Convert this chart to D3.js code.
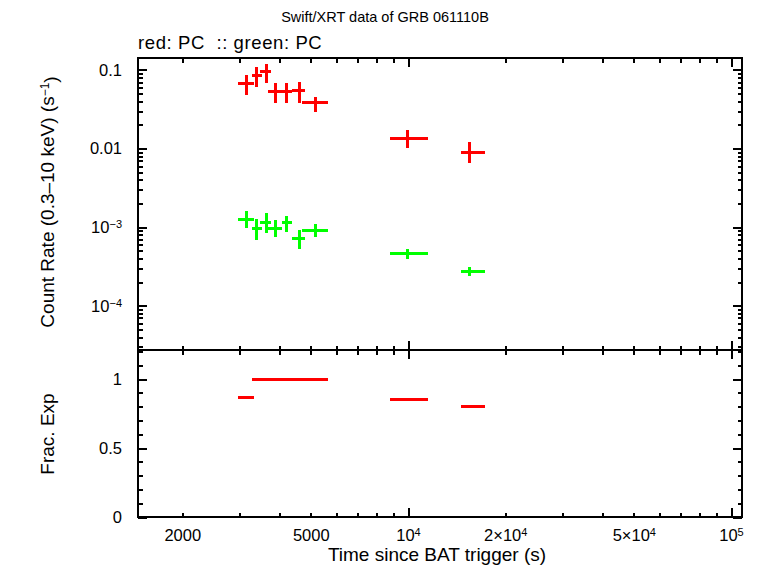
<!DOCTYPE html>
<html>
<head>
<meta charset="utf-8">
<script src="https://cdn.jsdelivr.net/npm/d3@7"></script>
<style>
body { margin: 0; background: #fff; }
text { font-family: "Liberation Sans", Arial, sans-serif; fill: #000; }
line, rect { shape-rendering: crispEdges; }
</style>
</head>
<body>
<svg id="chart" width="761" height="568"></svg>
<script>
// time bins (s since BAT trigger)
const tMid = [3170, 3390, 3640, 3890, 4220, 4600, 5170, 9980, 15480];
const tLo  = [2980, 3280, 3480, 3690, 4060, 4360, 4710, 8800, 14590];
const tHi  = [3330, 3520, 3760, 4060, 4360, 4800, 5640, 11530, 17310];

// red: PC count rate
const redRate = [0.0677, 0.0846, 0.0952, 0.0525, 0.0525, 0.0541, 0.0384, 0.01352, 0.00897];
const redLo   = [0.0481, 0.0602, 0.0677, 0.0377, 0.0377, 0.0380, 0.0295, 0.01019, 0.0065];
const redHi   = [0.0863, 0.1101, 0.1192, 0.0677, 0.0677, 0.0704, 0.0457, 0.01726, 0.01213];

// green: PC count rate
const greenRate = [1.27e-3, 9.68e-4, 1.154e-3, 9.68e-4, 1.154e-3, 7.22e-4, 9.21e-4, 4.66e-4, 2.77e-4];
const greenLo   = [9.68e-4, 6.88e-4, 8.36e-4, 7.44e-4, 8.61e-4, 5.28e-4, 7.57e-4, 3.98e-4, 2.42e-4];
const greenHi   = [1.607e-3, 1.272e-3, 1.503e-3, 1.236e-3, 1.389e-3, 9.21e-4, 1.089e-3, 5.23e-4, 3.09e-4];

// fractional exposure
const fracExp = [0.867, 1, 1, 1, 1, 1, 1, 0.853, 0.80];

const xMajor = [1e4, 1e5];
const xLabels = [2000, 5000, 1e4, 2e4, 5e4, 1e5];
const yMajor = [1e-4, 1e-3, 0.01, 0.1];
const fracMajor = [0, 0.5, 1];

const L = 138, R = 742, T = 58, M = 350, B = 517;
const svg = d3.select("#chart");

const x = d3.scaleLog().domain([1459, 108150]).range([L, R]);
const y = d3.scaleLog().domain([2.74e-5, 0.142]).range([M, T]);
const yf = d3.scaleLinear().domain([0, (B - M) / 138]).range([B, M]);

const xMinor = [];
for (let e = 3; e <= 4; e++) for (let k = 2; k <= 9; k++) xMinor.push(k * Math.pow(10, e));
const yMinor = [];
for (let e = -5; e <= -1; e++) for (let k = 2; k <= 9; k++) {
    const v = k * Math.pow(10, e);
    if (v > 2.74e-5 && v < 0.142) yMinor.push(v);
}
const fracMinor = d3.range(0, 13).map(i => i / 10).filter(v => fracMajor.indexOf(v) < 0);

const MAJ = 9, MIN = 4.5;
const TICKFONT = "16.5px", LABFONT = "19px";

function sup(sel, base, exp) {
    sel.text(null);
    sel.append("tspan").text(base);
    sel.append("tspan").attr("dy", "-0.45em").attr("font-size", "11px").text(exp);
}

function drawAxis(axis, tx, ty, cls) {
    const g = svg.append("g").attr("class", cls).attr("transform", `translate(${tx},${ty})`).call(axis);
    g.select(".domain").remove();
    g.selectAll("line").attr("stroke", "#000").attr("stroke-width", 2);
    g.selectAll("text").attr("font-size", TICKFONT);
    return g;
}

// x ticks: bottom, separator (both sides), top
[[B, "bottom"], [M, "bottom"], [M, "top"], [T, "top"]].forEach(([py, side]) => {
    [[xMajor, MAJ], [xMinor, MIN]].forEach(([vals, len]) => {
        const ax = (side === "bottom" ? d3.axisBottom(x) : d3.axisTop(x))
            .tickValues(vals).tickSizeInner(-len).tickSizeOuter(0).tickFormat("");
        drawAxis(ax, 0, py, "xt");
    });
});

// x labels
const xl = drawAxis(d3.axisBottom(x).tickValues(xLabels).tickSize(0).tickPadding(12), 0, B, "xl");
xl.selectAll("text").each(function(d) {
    const s = d3.select(this);
    if (d === 1e4) sup(s, "10", "4");
    else if (d === 1e5) sup(s, "10", "5");
    else if (d === 2e4) sup(s, "2\u00d710", "4");
    else if (d === 5e4) sup(s, "5\u00d710", "4");
    else s.text(d);
});

// y ticks, left and right
[[L, "left"], [R, "right"]].forEach(([px, side]) => {
    [[yMajor, MAJ], [yMinor, MIN]].forEach(([vals, len]) => {
        const ax = (side === "left" ? d3.axisLeft(y) : d3.axisRight(y))
            .tickValues(vals).tickSizeInner(-len).tickSizeOuter(0).tickFormat("");
        drawAxis(ax, px, 0, "yt");
    });
    [[fracMajor, MAJ], [fracMinor, MIN]].forEach(([vals, len]) => {
        const ax = (side === "left" ? d3.axisLeft(yf) : d3.axisRight(yf))
            .tickValues(vals).tickSizeInner(-len).tickSizeOuter(0).tickFormat("");
        drawAxis(ax, px, 0, "ft");
    });
});

const yl = drawAxis(d3.axisLeft(y).tickValues(yMajor).tickSize(0).tickPadding(16), L, 0, "yl");
yl.selectAll("text").each(function(d) {
    const s = d3.select(this);
    if (d === 0.1) s.text("0.1");
    else if (d === 0.01) s.text("0.01");
    else sup(s, "10", "\u2212" + Math.round(-Math.log10(d)));
});
drawAxis(d3.axisLeft(yf).tickValues(fracMajor).tickSize(0).tickPadding(16).tickFormat(d => d), L, 0, "fl");

// frame
svg.append("rect").attr("x", L).attr("y", T).attr("width", R - L).attr("height", B - T)
    .attr("fill", "none").attr("stroke", "#000").attr("stroke-width", 2);
svg.append("line").attr("x1", L).attr("x2", R).attr("y1", M).attr("y2", M)
    .attr("stroke", "#000").attr("stroke-width", 2);

// data
function crosses(rate, lo, hi, color) {
    const g = svg.append("g").attr("stroke", color).attr("stroke-width", 3);
    g.selectAll(".h").data(rate).join("line")
        .attr("x1", (d, i) => x(tLo[i])).attr("x2", (d, i) => x(tHi[i]))
        .attr("y1", d => y(d)).attr("y2", d => y(d));
    g.selectAll(".v").data(rate).join("line")
        .attr("x1", (d, i) => x(tMid[i])).attr("x2", (d, i) => x(tMid[i]))
        .attr("y1", (d, i) => y(lo[i])).attr("y2", (d, i) => y(hi[i]));
}
crosses(redRate, redLo, redHi, "#ff0000");
crosses(greenRate, greenLo, greenHi, "#00ff00");

svg.append("g").attr("stroke", "#ff0000").attr("stroke-width", 3)
    .selectAll("line").data(fracExp).join("line")
    .attr("x1", (d, i) => x(tLo[i])).attr("x2", (d, i) => x(tHi[i]))
    .attr("y1", d => yf(d)).attr("y2", d => yf(d));

// titles
svg.append("text").attr("x", 385).attr("y", 22).attr("text-anchor", "middle")
    .attr("font-size", "14.5px").text("Swift/XRT data of GRB 061110B");
svg.append("text").attr("x", 138).attr("y", 49).attr("font-size", "18.5px")
    .attr("letter-spacing", "0.6px")
    .style("white-space", "pre").text("red: PC  :: green: PC");
svg.append("text").attr("x", 437).attr("y", 561).attr("text-anchor", "middle")
    .attr("font-size", LABFONT).text("Time since BAT trigger (s)");

const yt = svg.append("text").attr("transform", "translate(54,202) rotate(-90)")
    .attr("text-anchor", "middle").attr("font-size", LABFONT);
yt.append("tspan").text("Count Rate (0.3\u201310 keV) (s");
yt.append("tspan").attr("dy", "-0.45em").attr("font-size", "12px").text("\u22121");
yt.append("tspan").attr("dy", "0.45em").text(")");

svg.append("text").attr("transform", "translate(54,434) rotate(-90)")
    .attr("text-anchor", "middle").attr("font-size", LABFONT).text("Frac. Exp");
</script>
</body>
</html>
